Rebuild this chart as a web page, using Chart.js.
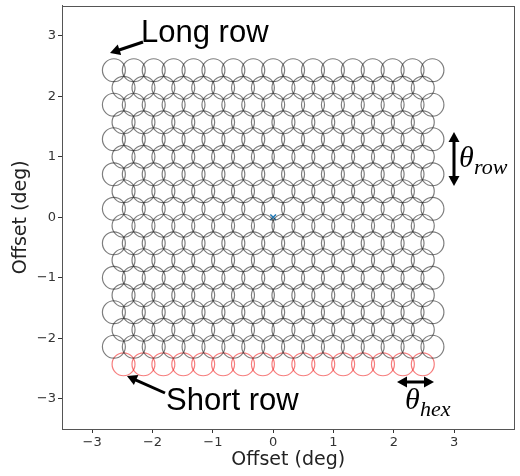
<!DOCTYPE html>
<html>
<head>
<meta charset="utf-8">
<script src="https://cdn.jsdelivr.net/npm/chart.js@4/dist/chart.umd.min.js"></script>
<style>
  html, body { margin: 0; padding: 0; background: #fff; }
  #wrap { width: 520px; height: 476px; }
</style>
</head>
<body>
<div id="wrap"><canvas id="hexChart"></canvas></div>
<script>
// beam centres (deg)
const longRowX = [-2.64, -2.31, -1.98, -1.65, -1.32, -0.99, -0.66, -0.33, 0, 0.33, 0.66, 0.99, 1.32, 1.65, 1.98, 2.31, 2.64];
const shortRowX = [-2.48, -2.15, -1.82, -1.49, -1.16, -0.83, -0.5, -0.17, 0.17, 0.5, 0.83, 1.16, 1.49, 1.82, 2.15, 2.48];
const rowY = [2.43, 2.14, 1.86, 1.57, 1.29, 1.0, 0.71, 0.43, 0.14, -0.14, -0.43, -0.71, -1.0, -1.29, -1.57, -1.86, -2.14, -2.43];
const rowKind = ["long", "short", "long", "short", "long", "short", "long", "short", "long",
                 "short", "long", "short", "long", "short", "long", "short", "long", "short"];
const highlightRow = 17; // bottom short row drawn in red
const centre = [{ x: 0, y: 0 }];
const beamRadiusDeg = 0.19;

const xTicks = [-3, -2, -1, 0, 1, 2, 3];
const yTicks = [-3, -2, -1, 0, 1, 2, 3];

const greyBeams = [];
const redBeams = [];
rowY.forEach((y, i) => {
  const xs = rowKind[i] === "long" ? longRowX : shortRowX;
  xs.forEach((x) => (i === highlightRow ? redBeams : greyBeams).push({ x: x, y: y }));
});

function beamRadius(ctx) {
  const s = ctx.chart.scales.x;
  if (!s) return 10;
  return Math.abs(s.getPixelForValue(beamRadiusDeg) - s.getPixelForValue(0));
}

function arrowHead(c, x1, y1, x2, y2, len, half) {
  const a = Math.atan2(y2 - y1, x2 - x1);
  c.beginPath();
  c.moveTo(x2, y2);
  c.lineTo(x2 - len * Math.cos(a) + half * Math.sin(a), y2 - len * Math.sin(a) - half * Math.cos(a));
  c.lineTo(x2 - len * Math.cos(a) - half * Math.sin(a), y2 - len * Math.sin(a) + half * Math.cos(a));
  c.closePath();
  c.fill();
}

function arrow(c, x1, y1, x2, y2, both) {
  const a = Math.atan2(y2 - y1, x2 - x1);
  const len = 10;
  c.beginPath();
  c.moveTo(both ? x1 + len * 0.8 * Math.cos(a) : x1, both ? y1 + len * 0.8 * Math.sin(a) : y1);
  c.lineTo(x2 - len * 0.8 * Math.cos(a), y2 - len * 0.8 * Math.sin(a));
  c.stroke();
  arrowHead(c, x1, y1, x2, y2, len, 5.5);
  if (both) arrowHead(c, x2, y2, x1, y1, len, 5.5);
}

const frameAndNotes = {
  id: "frameAndNotes",
  afterDraw(chart) {
    const c = chart.ctx;
    const a = chart.chartArea;
    c.save();
    c.strokeStyle = "#555";
    c.lineWidth = 1;
    c.strokeRect(Math.round(a.left) + 0.5, Math.round(a.top) + 0.5, Math.round(a.right - a.left) - 1, Math.round(a.bottom - a.top) - 1);

    c.fillStyle = "#000";
    c.strokeStyle = "#000";
    c.lineWidth = 3;
    c.textBaseline = "alphabetic";
    c.textAlign = "left";
    c.font = '31px "Liberation Sans", Arial, sans-serif';
    c.fillText("Long row", 141, 42);
    c.fillText("Short row", 166, 410);
    arrow(c, 143, 42, 110, 53, false);
    arrow(c, 165, 393, 127, 376, false);

    arrow(c, 454, 132, 454, 186, true);
    arrow(c, 397, 382, 434, 382, true);

    c.font = 'italic 30px "Liberation Serif", "DejaVu Serif", serif';
    c.fillText("\u03b8", 459, 167);
    c.fillText("\u03b8", 405, 409);
    c.font = 'italic 22px "Liberation Serif", "DejaVu Serif", serif';
    c.fillText("row", 474, 174);
    c.fillText("hex", 420, 416);
    c.restore();
  }
};

const tickFont = { family: "'DejaVu Sans', sans-serif", size: 13 };
const titleFont = { family: "'DejaVu Sans', sans-serif", size: 19 };

new Chart(document.getElementById("hexChart"), {
  type: "scatter",
  data: {
    datasets: [
      {
        label: "beams",
        data: greyBeams,
        pointStyle: "circle",
        radius: beamRadius,
        backgroundColor: "rgba(0,0,0,0)",
        borderColor: "rgba(40,40,40,0.6)",
        borderWidth: 1.2,
      },
      {
        label: "short row",
        data: redBeams,
        pointStyle: "circle",
        radius: beamRadius,
        backgroundColor: "rgba(0,0,0,0)",
        borderColor: "rgba(240,40,40,0.6)",
        borderWidth: 1.2,
      },
      {
        label: "centre",
        data: centre,
        pointStyle: "crossRot",
        radius: 4,
        borderColor: "#1f77b4",
        borderWidth: 1.5,
      },
    ],
  },
  options: {
    responsive: true,
    maintainAspectRatio: false,
    animation: false,
    layout: { padding: { top: 4, right: 3, left: 0, bottom: 0 } },
    plugins: { legend: { display: false }, tooltip: { enabled: false } },
    scales: {
      x: {
        type: "linear",
        min: -3.5,
        max: 4.0,
        afterBuildTicks: (s) => { s.ticks = xTicks.map((v) => ({ value: v })); },
        afterFit: (s) => { s.height = 47; s.paddingLeft = 0; s.paddingRight = 0; },
        ticks: { font: tickFont, color: "#333", padding: 2, maxRotation: 0,
                 callback: (v) => (v < 0 ? "\u2212" + Math.abs(v) : String(v)) },
        grid: { display: true, drawOnChartArea: false, drawTicks: true, tickLength: 4, color: "#333" },
        border: { display: true, color: "#555" },
        title: { display: true, text: "Offset (deg)", font: titleFont, color: "#222", padding: { top: 0, bottom: 5 } },
      },
      y: {
        type: "linear",
        min: -3.5,
        max: 3.5,
        afterBuildTicks: (s) => { s.ticks = yTicks.map((v) => ({ value: v })); },
        afterFit: (s) => { s.width = 62; s.paddingTop = 0; s.paddingBottom = 0; },
        ticks: { font: tickFont, color: "#333", padding: 2,
                 callback: (v) => (v < 0 ? "\u2212" + Math.abs(v) : String(v)) },
        grid: { display: true, drawOnChartArea: false, drawTicks: true, tickLength: 4, color: "#333" },
        border: { display: true, color: "#555" },
        title: { display: true, text: "Offset (deg)", font: titleFont, color: "#222", padding: { top: 10, bottom: 0 } },
      },
    },
  },
  plugins: [frameAndNotes],
});
</script>
</body>
</html>
